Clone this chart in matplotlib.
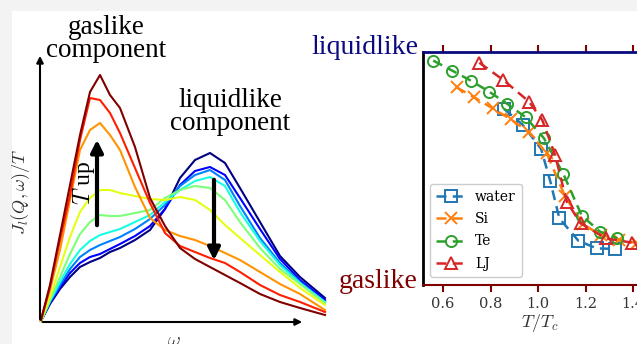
import numpy as np
import matplotlib
matplotlib.use("Agg")
import matplotlib.pyplot as plt
from matplotlib.patches import Rectangle

plt.rcParams['mathtext.fontset'] = 'cm'

W, H = 637, 344

# spectra J_l(Q, w)/T, arbitrary units, coldest (navy) to hottest (dark red)
omega = [1, 10, 20, 30, 40, 50, 60, 70, 80, 95, 110, 125, 140, 155, 170, 185, 200, 220, 240, 260, 285]
spectra = [
    [1, 18, 33, 45, 55, 60, 64, 70, 74, 82, 92, 113, 144, 162, 169, 159, 134, 100, 66, 45, 24],
    [1, 19, 35, 49, 59, 65, 68, 73, 78, 86, 96, 113, 137, 151, 155, 147, 124, 93, 63, 42, 22],
    [1, 20, 37, 53, 65, 72, 77, 81, 85, 93, 103, 117, 136, 147, 152, 142, 116, 84, 59, 40, 20],
    [1, 21, 40, 58, 72, 81, 87, 90, 93, 100, 107, 120, 132, 141, 145, 136, 110, 81, 57, 39, 20],
    [1, 22, 45, 68, 88, 100, 107, 106, 106, 109, 112, 124, 132, 136, 134, 122, 100, 74, 53, 38, 19],
    [1, 25, 55, 85, 110, 124, 132, 132, 129, 126, 123, 122, 125, 122, 112, 97, 84, 67, 50, 34, 17],
    [2, 32, 72, 122, 172, 192, 199, 187, 172, 135, 104, 92, 86, 82, 76, 69, 62, 50, 38, 28, 12],
    [2, 35, 82, 127, 182, 224, 222, 209, 189, 154, 119, 89, 76, 70, 64, 59, 50, 37, 27, 20, 10],
    [2, 37, 87, 137, 187, 230, 247, 227, 214, 175, 124, 96, 74, 63, 55, 47, 39, 28, 20, 14, 7],
]

# liquidlike fraction vs reduced temperature
T_water = [0.858, 0.936, 1.013, 1.051, 1.090, 1.170, 1.247, 1.324]
f_water = [0.755, 0.687, 0.584, 0.448, 0.286, 0.190, 0.157, 0.155]
T_si = [0.658, 0.732, 0.809, 0.886, 0.963, 1.037, 1.114, 1.190, 1.265, 1.340, 1.415]
f_si = [0.848, 0.805, 0.758, 0.711, 0.655, 0.565, 0.380, 0.260, 0.215, 0.195, 0.180]
T_te = [0.559, 0.639, 0.717, 0.794, 0.871, 0.948, 1.025, 1.107, 1.184, 1.261, 1.334]
f_te = [0.963, 0.920, 0.877, 0.830, 0.777, 0.720, 0.630, 0.476, 0.298, 0.229, 0.200]
T_lj = [0.753, 0.854, 0.962, 1.018, 1.072, 1.121, 1.179, 1.286, 1.394]
f_lj = [0.954, 0.880, 0.787, 0.708, 0.558, 0.358, 0.265, 0.200, 0.182]

fig = plt.figure(figsize=(W / 100, H / 100), dpi=100, facecolor='#f3f3f3')
fig.patches.append(Rectangle((12 / W, 0), 1, 1 - 11 / H, transform=fig.transFigure,
                             facecolor='white', edgecolor='none', zorder=-10))

def px(x, y):
    return x / W, 1 - y / H

# left panel: spectra
ax1 = fig.add_axes([40 / W, 22 / H, 285 / W, 269 / H])
ax1.set_xlim(0, 285)
ax1.set_ylim(0, 269)
ax1.axis('off')
cmap = plt.get_cmap('jet')
for i, J in enumerate(spectra):
    ax1.plot(omega, J, color=cmap(i / (len(spectra) - 1)), lw=1.5, clip_on=False)

ax1.annotate('', xy=(265, 0), xytext=(0, 0), annotation_clip=False,
             arrowprops=dict(arrowstyle='-|>', color='k', lw=1.5, mutation_scale=10))
ax1.annotate('', xy=(0, 269), xytext=(0, 0), annotation_clip=False,
             arrowprops=dict(arrowstyle='-|>', color='k', lw=1.5, mutation_scale=10))
ax1.annotate('', xy=(57, 185), xytext=(57, 94),
             arrowprops=dict(arrowstyle='-|>', color='k', lw=3, mutation_scale=18))
ax1.annotate('', xy=(174, 59), xytext=(174, 145),
             arrowprops=dict(arrowstyle='-|>', color='k', lw=3, mutation_scale=18))

serif = ['Liberation Serif', 'DejaVu Serif']
fig.text(*px(84, 183), r'$T$ up', rotation=90, ha='center', va='center',
         fontsize=17, family=serif)
fig.text(*px(106, 39), 'gaslike\ncomponent', ha='center', va='center',
         fontsize=19.5, family=serif, linespacing=0.9)
fig.text(*px(230, 112), 'liquidlike\ncomponent', ha='center', va='center',
         fontsize=19.5, family=serif, linespacing=0.9)
fig.text(*px(20, 192), r'$J_l(Q,\omega)/T$', rotation=90, ha='center', va='center',
         fontsize=13, color='#333333')
fig.text(*px(174, 340), r'$\omega$', ha='center', va='center', fontsize=14, color='#333333')

# right panel: liquidlike fraction
navy = '#0a0a80'
darkred = '#800000'
x0, x1 = 0.515, 1.5
ppu = 237.5
left_px = 443 - (0.6 - x0) * ppu
right_px = 443 + (x1 - 0.6) * ppu
ax2 = fig.add_axes([left_px / W, (H - 285) / H, (right_px - left_px) / W, 233 / H])
ax2.set_xlim(x0, x1)
ax2.set_ylim(0, 1)

styles = [
    ('water', T_water, f_water, 's', 'tab:blue'),
    ('Si', T_si, f_si, 'x', 'tab:orange'),
    ('Te', T_te, f_te, 'o', 'tab:green'),
    ('LJ', T_lj, f_lj, '^', 'tab:red'),
]
for name, T, f, m, c in styles:
    ax2.plot(T, f, ls='--', lw=1.8, marker=m, color=c, mfc='none', mew=1.4,
             ms=8, label=name, dashes=(4, 2.5))

ax2.spines['right'].set_visible(False)
ax2.spines['left'].set_linewidth(2)
ax2.spines['top'].set_color(navy)
ax2.spines['top'].set_linewidth(2)
ax2.spines['bottom'].set_color(darkred)
ax2.spines['bottom'].set_linewidth(1.5)
ax2.set_yticks([])
ax2.set_xticks([0.6, 0.8, 1.0, 1.2, 1.4])
ax2.tick_params(axis='x', which='both', top=True, direction='out', length=5, width=1.5,
                labelsize=10.5, labelcolor='#333333', color=darkred)
for t in ax2.xaxis.get_major_ticks():
    t.tick2line.set_color(navy)
for lab in ax2.get_xticklabels():
    lab.set_family('DejaVu Serif')
ax2.set_xlabel(r'$T/T_c$', fontsize=13, color='#333333', labelpad=1)

leg = ax2.legend(loc='lower left', bbox_to_anchor=(0.03, 0.034), borderaxespad=0,
                 prop={'family': 'DejaVu Serif', 'size': 10},
                 handlelength=2.2, handletextpad=0.6, borderpad=0.45, labelspacing=0.6,
                 framealpha=1, fancybox=True)
leg.get_frame().set_edgecolor('#cccccc')

fig.text(*px(418, 47), 'liquidlike', ha='right', va='center', color=navy,
         fontsize=20, family=serif)
fig.text(*px(418, 281), 'gaslike', ha='right', va='center', color=darkred,
         fontsize=20, family=serif)

fig.savefig('out.png', dpi=100, facecolor=fig.get_facecolor())
